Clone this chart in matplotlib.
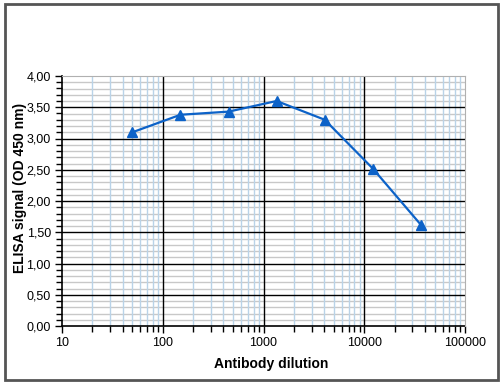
import numpy as np
import matplotlib
matplotlib.use("Agg")
import matplotlib.pyplot as plt
from matplotlib.ticker import FixedLocator, FuncFormatter, NullFormatter
from matplotlib.patches import Rectangle

plt.rcParams["font.family"] = ["Liberation Sans", "DejaVu Sans"]

# ── Data ──────────────────────────────────────────────────────────────────────
dilution = [50, 150, 450, 1350, 4050, 12150, 36450]
signal = [3.10, 3.38, 3.43, 3.60, 3.30, 2.52, 1.62]
x_ticks = [10, 100, 1000, 10000, 100000]
y_ticks = [0.0, 0.5, 1.0, 1.5, 2.0, 2.5, 3.0, 3.5, 4.0]

W, H = 504, 384

# ── Plot ──────────────────────────────────────────────────────────────────────
fig = plt.figure(figsize=(W / 100, H / 100), dpi=100)
ax = fig.add_axes([62 / W, 1 - 326 / H, (465 - 62) / W, (326 - 76) / H])

ax.set_xscale("log")
ax.set_xlim(10, 100000)
ax.set_ylim(0, 4)

x_minor = [d * k for d in x_ticks[:-1] for k in range(2, 10)]
y_minor = [v for v in np.round(np.arange(0, 4.01, 0.1), 2) if v not in y_ticks]

ax.xaxis.set_major_locator(FixedLocator(x_ticks))
ax.xaxis.set_minor_locator(FixedLocator(x_minor))
ax.xaxis.set_minor_formatter(NullFormatter())
ax.yaxis.set_major_locator(FixedLocator(y_ticks))
ax.yaxis.set_minor_locator(FixedLocator(np.arange(0, 4.01, 0.1)))

# grid: light minor lines underneath, black major lines on top
for v in y_minor:
    ax.axhline(v, color="#c8c8c8", linewidth=1.0, zorder=0.5)
for v in x_minor:
    ax.axvline(v, color="#b9d3e8", linewidth=1.0, zorder=0.6)
for v in y_ticks[1:-1]:
    ax.axhline(v, color="black", linewidth=1.0, zorder=1)
for v in x_ticks[1:-1]:
    ax.axvline(v, color="black", linewidth=1.0, zorder=1)

ax.plot(dilution, signal, "-^", color="#0c62c8", linewidth=1.6,
        markersize=7.5, zorder=3, clip_on=False)

ax.xaxis.set_major_formatter(FuncFormatter(lambda v, p: f"{int(round(v))}"))
ax.yaxis.set_major_formatter(FuncFormatter(lambda v, p: f"{v:.2f}".replace(".", ",")))

ax.tick_params(which="major", length=5, width=1, direction="out", labelsize=9, pad=3)
ax.tick_params(which="minor", length=4, width=1, direction="out")

for s in ["top", "right"]:
    ax.spines[s].set_color("#b0b0b0")
for s in ["left", "bottom"]:
    ax.spines[s].set_color("black")
    ax.spines[s].set_linewidth(1.2)
    ax.spines[s].set_zorder(2)

fig.text(271 / W, 1 - 364 / H, "Antibody dilution", fontsize=10,
         fontweight="bold", ha="center", va="center")
fig.text(20 / W, 1 - 188 / H, "ELISA signal (OD 450 nm)", fontsize=10,
         fontweight="bold", ha="center", va="center", rotation=90)

# outer chart frame
fig.patches.append(Rectangle((5 / W, 4 / H), 493 / W, 376 / H,
                             transform=fig.transFigure, fill=False,
                             edgecolor="#555555", linewidth=2))

fig.savefig("out.png", dpi=100)
